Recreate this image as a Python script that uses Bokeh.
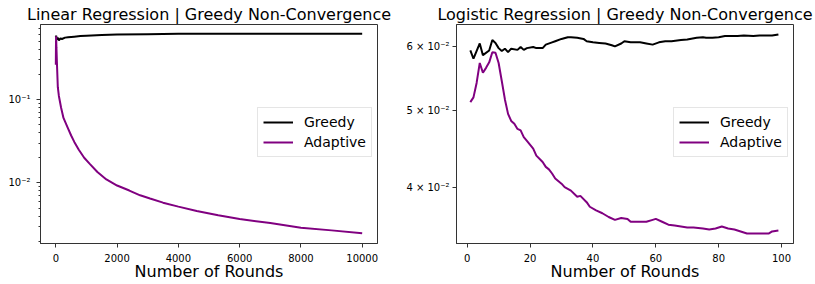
from bokeh.plotting import figure
from bokeh.layouts import row
from bokeh.models import FixedTicker, Legend, LegendItem, Range1d
from bokeh.embed import file_html
from bokeh.resources import INLINE

FONT = "DejaVu Sans"

# ---------------- Linear regression panel ----------------
lin_title = "Linear Regression | Greedy Non-Convergence"
lin_greedy_x = [0, 10, 30, 60, 100, 150, 200, 300, 400, 600, 800, 1000, 1500, 2000,
                3000, 4000, 5000, 6000, 7000, 8000, 9000, 10000]
lin_greedy_y = [0.56, 0.58, 0.52, 0.55, 0.51, 0.54, 0.53, 0.55, 0.555, 0.565, 0.575, 0.58,
                0.59, 0.60, 0.605, 0.61, 0.61, 0.612, 0.612, 0.613, 0.613, 0.612]
lin_adapt_x = [0, 5, 10, 20, 40, 65, 100, 171, 250, 387, 500, 603, 750, 926, 1100, 1357,
               1650, 2000, 2400, 2752, 3075, 3500, 4000, 4600, 5300, 6000, 7000, 8000,
               9000, 10000]
lin_adapt_y = [0.26, 0.45, 0.57, 0.42, 0.25, 0.14, 0.11, 0.080, 0.060, 0.046, 0.037, 0.031,
               0.025, 0.020, 0.017, 0.0135, 0.011, 0.0093, 0.0081, 0.0071, 0.0065, 0.0058,
               0.0052, 0.0046, 0.0041, 0.0037, 0.0033, 0.0029, 0.0027, 0.0025]
lin_xticks = [0, 2000, 4000, 6000, 8000, 10000]
lin_yticks = [0.01, 0.1]
lin_ylabels = ["10⁻²", "10⁻¹"]
lin_yminor = [0.002, 0.003, 0.004, 0.005, 0.006, 0.007, 0.008, 0.009,
              0.02, 0.03, 0.04, 0.05, 0.06, 0.07, 0.08, 0.09,
              0.2, 0.3, 0.4, 0.5, 0.6, 0.7, 0.8, 0.9]
lin_xrange = (-500, 10500)
lin_yrange = (0.00188, 0.79)

# ---------------- Logistic regression panel ----------------
log_title = "Logistic Regression | Greedy Non-Convergence"
log_greedy_x = [1, 2, 4, 5, 7, 8, 9, 10, 11, 12, 13, 14, 16, 17, 18, 19, 21, 22, 24, 25, 27,
                28, 30, 32, 33, 35, 37, 38, 40, 42, 44, 46, 47, 49, 50, 52, 55, 57, 59, 61,
                63, 65, 68, 70, 73, 75, 76, 78, 80, 82, 84, 86, 88, 91, 93, 95, 97, 99]
log_greedy_y = [0.0594, 0.0580, 0.0606, 0.0586, 0.0594, 0.0612, 0.0607, 0.0598, 0.0593,
                0.0597, 0.0591, 0.0597, 0.0595, 0.0600, 0.0595, 0.0598, 0.0600, 0.0598,
                0.0598, 0.0604, 0.0608, 0.0610, 0.0614, 0.0617, 0.0617, 0.0616, 0.0614,
                0.0610, 0.0608, 0.0607, 0.0606, 0.0603, 0.0601, 0.0606, 0.0610, 0.0608,
                0.0608, 0.0606, 0.0604, 0.0608, 0.0610, 0.0610, 0.0612, 0.0613, 0.0616,
                0.0617, 0.0616, 0.0616, 0.0617, 0.0619, 0.0619, 0.0619, 0.0620, 0.0619,
                0.0620, 0.0620, 0.0620, 0.0622]
log_adapt_x = [1, 2, 3, 4, 5, 6, 7, 8, 9, 10, 11, 12, 13, 14, 15, 16, 17, 18, 19, 21, 22, 24,
               25, 26, 27, 28, 30, 31, 33, 35, 36, 38, 39, 41, 43, 45, 47, 49, 51, 52, 55,
               57, 59, 60, 62, 64, 66, 68, 70, 72, 75, 77, 79, 81, 83, 85, 87, 89, 91, 94,
               96, 97, 99]
log_adapt_y = [0.0512, 0.0519, 0.0541, 0.0573, 0.0557, 0.0565, 0.0574, 0.0591, 0.0590,
               0.0573, 0.0544, 0.0516, 0.0495, 0.0485, 0.0481, 0.0474, 0.0472, 0.0463,
               0.0458, 0.0448, 0.0439, 0.0431, 0.0425, 0.0422, 0.0417, 0.0411, 0.0405,
               0.0401, 0.0397, 0.0390, 0.0391, 0.0384, 0.0379, 0.0375, 0.0372, 0.0368,
               0.0365, 0.0367, 0.0366, 0.0363, 0.0363, 0.0363, 0.0365, 0.0366, 0.0363,
               0.0360, 0.0359, 0.0358, 0.0357, 0.0357, 0.0356, 0.0355, 0.0356, 0.0358,
               0.0356, 0.0355, 0.0353, 0.0351, 0.0351, 0.0351, 0.0351, 0.0353, 0.0354]
log_xticks = [0, 20, 40, 60, 80, 100]
log_yticks = [0.04, 0.05, 0.06]
log_ylabels = ["4 × 10⁻²", "5 × 10⁻²", "6 × 10⁻²"]
log_yminor = []
log_xrange = (-3.4, 103.8)
log_yrange = (0.0341, 0.0640)

series_names = ["Greedy", "Adaptive"]
series_colors = ["black", "#800080"]


def make_panel(title, gx, gy, ax, ay, xr, yr, xticks, yticks, ylabels, yminor,
               width, mbl, mbr, ystandoff):
    p = figure(width=width, height=284, x_range=Range1d(*xr), y_range=Range1d(*yr),
               y_axis_type="log", output_backend="svg", toolbar_location=None,
               min_border_left=mbl, min_border_right=mbr, min_border_top=24,
               min_border_bottom=41, title=title)
    p.title.text_font = FONT
    p.title.text_font_size = "16px"
    p.title.text_font_style = "normal"
    p.title.text_color = "black"
    p.title.align = "center"
    p.title.standoff = 2
    p.grid.visible = False
    p.outline_line_color = "#333333"
    p.outline_line_width = 1
    p.background_fill_color = "white"
    p.border_fill_color = "white"

    xa = p.xaxis[0]
    xa.ticker = FixedTicker(ticks=xticks)
    xa.axis_label = "Number of Rounds"
    xa.axis_label_text_font = FONT
    xa.axis_label_text_font_size = "16px"
    xa.axis_label_text_font_style = "normal"
    xa.axis_label_text_color = "black"
    xa.axis_label_standoff = -3
    xa.major_label_standoff = 6
    ya = p.yaxis[0]
    ya.ticker = FixedTicker(ticks=yticks, minor_ticks=yminor)
    ya.major_label_overrides = {t: l for t, l in zip(yticks, ylabels)}
    ya.major_label_standoff = ystandoff
    for a in (xa, ya):
        a.major_label_text_font = FONT
        a.major_label_text_font_size = "10px"
        a.major_label_text_color = "black"
        a.axis_line_color = "#333333"
        a.major_tick_line_color = "#333333"
        a.minor_tick_line_color = "#333333"
        a.major_tick_in = 0
        a.major_tick_out = 4
        a.minor_tick_in = 0
        a.minor_tick_out = 2

    r1 = p.line(gx, gy, line_color=series_colors[0], line_width=2)
    r2 = p.line(ax, ay, line_color=series_colors[1], line_width=2)
    legend = Legend(items=[LegendItem(label=series_names[0], renderers=[r1]),
                           LegendItem(label=series_names[1], renderers=[r2])],
                    location=(217, 86))
    legend.label_text_font = FONT
    legend.label_text_font_size = "14px"
    legend.label_text_color = "black"
    legend.glyph_width = 30
    legend.glyph_height = 18
    legend.label_height = 18
    legend.label_standoff = 11
    legend.padding = 5
    legend.spacing = 2
    legend.margin = 0
    legend.border_line_color = "#cccccc"
    legend.border_line_width = 1
    legend.background_fill_alpha = 0.8
    p.add_layout(legend)
    return p


p1 = make_panel(lin_title, lin_greedy_x, lin_greedy_y, lin_adapt_x, lin_adapt_y,
                lin_xrange, lin_yrange, lin_xticks, lin_yticks, lin_ylabels, lin_yminor,
                397, 40, 20, 6)
p2 = make_panel(log_title, log_greedy_x, log_greedy_y, log_adapt_x, log_adapt_y,
                log_xrange, log_yrange, log_xticks, log_yticks, log_ylabels, log_yminor,
                418, 59, 22, 3)

layout = row(p1, p2)
open("out.html", "w").write(file_html(layout, INLINE))
